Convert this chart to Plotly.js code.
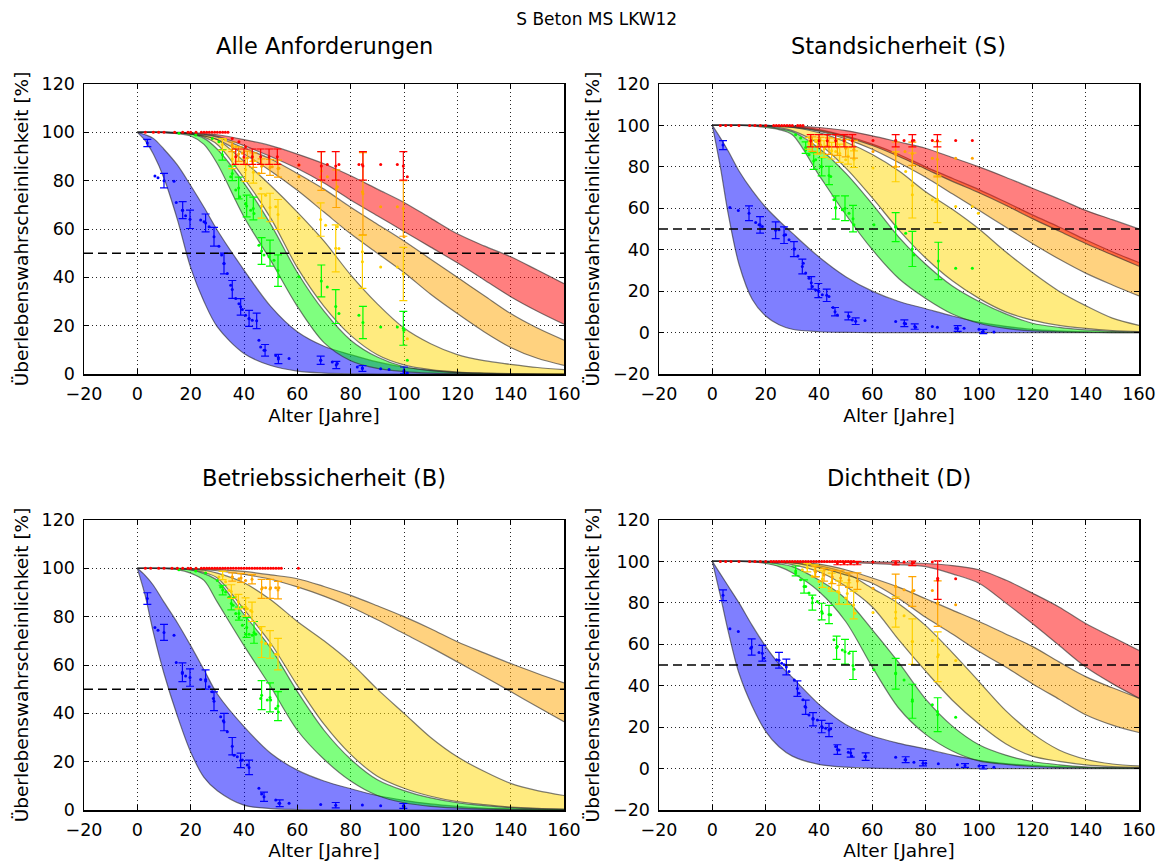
<!DOCTYPE html>
<html><head><meta charset="utf-8">
<script src="https://cdn.plot.ly/plotly-3.0.1.min.js"></script>
<style>html,body{margin:0;padding:0;background:#fff}</style>
</head><body><div id="chart" style="width:1170px;height:861px"></div>
<script>
// ---------- shared age grid (years) ----------
const AGE = [0,3,6,10,15,20,25,30,40,50,60,70,80,90,100,110,120,130,140,150,160];
const THRESHOLD = 50;

// ---------- Alle Anforderungen (A) : band bounds ----------
const A_BLUE_LO   = [100,96.5,91,81,64,44,30,19.5,8.5,3.5,1.2,0.4,0.1,0,0,0,0,0,0,0,0];
const A_BLUE_HI   = [100,99,97.5,93,86.5,78,69,59.5,43,28,17.5,11.5,8,5,2.8,1.5,0.7,0.3,0.1,0,0];
const A_GREEN_LO  = [100,100,100,99.9,99.5,98.5,95,87,65,47,28,13,5.5,2.3,1,0.4,0.2,0.1,0,0,0];
const A_GREEN_HI  = [100,100,100,100,99.8,99.3,97.5,93,79,62,42,26,14,7,3,1.4,0.6,0.3,0.1,0,0];
const A_YELLOW_LO = [100,100,100,100,99.9,99.5,98,95,81,64.5,44,28,16,8,3.8,1.8,0.8,0.4,0.2,0.1,0];
const A_YELLOW_HI = [100,100,100,100,99.8,99.4,98.5,97,88,78,67,55,41,29,19,12.5,8,5.5,4,2.7,1.8];
const A_ORANGE_LO = [100,100,100,100,99.8,99.3,98.5,97,91,84,76,67,58,50,42,33,25,17.5,11,6.5,3.6];
const A_ORANGE_HI = [100,100,100,100,99.9,99.5,99,98,93.5,89,83,76.5,69,62,55,47.5,40,32.5,25,19,14];
const A_RED_LO    = [100,100,100,100,99.9,99.6,99.2,98.3,94.5,90,85,79,72,65.5,59,52.5,46,39,32,26,20.6];
const A_RED_HI    = [100,100,100,100,100,99.9,99.5,99,97,94.5,91,87,82,76.5,71,64.5,58,53,48.5,43,37.4];

// ---------- Standsicherheit (S) ----------
const S_BLUE_LO   = [100,80,57,33,16,8,3.8,1.6,0.4,0.1,0,0,0,0,0,0,0,0,0,0,0];
const S_BLUE_HI   = [100,94,87.5,78,68.5,60.5,54,48,36.5,27,20,15,11.5,8,5,3,1.5,0.8,0.4,0.2,0.1];
const S_GREEN_LO  = [100,100,100,100,99.8,99,98,95.5,76,57,40,26,16.5,9,4.5,2,0.8,0.3,0.1,0,0];
const S_GREEN_HI  = [100,100,100,100,99.9,99.5,98.5,97,89,77,62,46,33,22.5,15,9,4.5,2.5,1.3,0.6,0.3];
const S_YELLOW_LO = [100,100,100,100,99.9,99.7,99,97.5,91,79.5,65,49.5,36,25,16.5,10,6,3.5,2,1,0.5];
const S_YELLOW_HI = [100,100,100,100,100,99.8,99.5,99,96.5,92,86,78,68,59.5,50,39,29,20,13,7,3.5];
const S_ORANGE_LO = [100,100,100,100,100,99.9,99.6,99.2,97.2,93.5,88.5,82,75,67,59,51,43,35.5,28.7,23,17.7];
const S_ORANGE_HI = [100,100,100,100,100,100,99.8,99.5,98,95,91,86,80,74.5,69,63,56.8,51,44.8,39,33.8];
const S_RED_LO    = [100,100,100,100,100,100,99.7,99.3,97.5,94.5,90.3,85,79,73,67.5,61.5,55,49,43,37.5,32];
const S_RED_HI    = [100,100,100,100,100,100,99.9,99.8,99,97.5,95,92,89,84.5,80,75,69.7,64.5,59,54.5,50];

// ---------- Betriebssicherheit (B) ----------
const B_BLUE_LO   = [100,88.5,73.5,56.5,39,24,13.5,8,2,0.6,0.2,0,0,0,0,0,0,0,0,0,0];
const B_BLUE_HI   = [100,97,93,86,77.5,68,58,48,34.5,23.5,16.5,12,8.8,6,4,2.5,1.5,0.8,0.5,0.3,0.2];
const B_GREEN_LO  = [100,100,100,99.9,99.5,98,95,86,68,51,33,21,12,6,3,1.5,0.8,0.4,0.2,0.1,0];
const B_GREEN_HI  = [100,100,100,100,99.8,99.3,97.8,95,81,67,49,33,21,12.5,8,5,3,1.8,1,0.5,0.3];
const B_YELLOW_LO = [100,100,100,100,99.9,99.5,98.3,96,83,69,51.5,35.5,23,14,9,5.7,3.5,2.2,1.2,0.7,0.4];
const B_YELLOW_HI = [100,100,100,100,99.9,99.7,99.2,98,94,87,78,70,61,50,40,30,22,16,11,8,6];
const B_ORANGE_LO = [100,100,100,100,100,99.8,99.5,99,97.5,95.5,92.3,88.5,84,78.7,73,67.3,61.3,55.2,49,42.7,36.5];
const B_ORANGE_HI = [100,100,100,100,100,99.9,99.8,99.6,98.7,97.3,95.7,92.5,88.8,84.5,80,75,69.6,65,60.6,56.5,52.6];

// ---------- Dichtheit (D) ----------
const D_BLUE_LO   = [100,83.5,66,46,30,18,10.5,6,2,0.7,0.2,0,0,0,0,0,0,0,0,0,0];
const D_BLUE_HI   = [100,94,88,80,69,59,50.5,44,31,21.3,15.7,12.2,9.5,6.5,4,2.4,1.5,0.9,0.5,0.3,0.2];
const D_GREEN_LO  = [100,100,100,100,99.8,99,97.5,94.5,85.5,71,49,29,16.5,8.5,3.7,2,1,0.5,0.3,0.1,0.1];
const D_GREEN_HI  = [100,100,100,100,99.9,99.5,98.8,97.5,91,82,67,51,33.5,20.5,11.5,6.5,3.4,1.8,0.8,0.5,0.3];
const D_YELLOW_LO = [100,100,100,100,99.9,99.7,99.3,98.5,95,88,78,62,47,33,21.5,12,6,3.5,1.8,1,0.6];
const D_YELLOW_HI = [100,100,100,100,100,99.8,99.6,99.4,98,94.5,87,79.5,69,56,42,28,17,9,4.5,2.2,1.3];
const D_ORANGE_LO = [100,100,100,100,100,99.9,99.7,99.3,97,93.5,89.5,82,73,65,56.5,49,41,33.5,26,21,17.4];
const D_ORANGE_HI = [100,100,100,100,100,100,99.9,99.7,98.7,96,92,87.5,82,76.5,71,65,59,51.5,44.4,39,34];
const D_RED_LO    = [100,100,100,100,100,100,100,100,99.8,99.5,99,98.5,97.5,94,89.5,80,70,59.5,49,41,34];
const D_RED_HI    = [100,100,100,100,100,100,100,100,100,99.9,99.8,99.5,99,98,96,91,84.7,78,70,63.5,57];

// ---------- observed points: error bars (EX, EY, EE) and single dots (DX, DY) ----------
// A
const A_BLUE_EX = [3.75,10,17,19.75,25.6,28.75,32.5,35.6,38.75,41.9,44.75,47.9,52.9,68.75,74.6,84.4,100];
const A_BLUE_EY = [95.6,80,67.8,64,62.5,56.8,45.7,35,27.8,23,22,9.8,6.2,5.7,3.7,2.3,1.5];
const A_BLUE_EE = [1.5,3,3.5,3.8,3.7,3.9,4.3,3.7,3.4,3.3,3.2,2.4,1.9,1.7,1.5,1.2,1.4];
const A_BLUE_DX = [6.6,7.75,13.75,14.6,16.9,18.1,23.75,25,26.9,30.6,31.6,32.5,33.75,35,36.9,38.1,39.4,40.6,41.9,43.1,45.6,46.25,47.5,51.9,52.9,56.9,68.75,73.1,75,82.5,84.4,91.25,94.4,100,101.25];
const A_BLUE_DY = [81.9,81.2,79.8,71,67.8,65.5,63.7,63,60.9,52.9,49.2,45.7,41.6,36.7,31.2,29.1,26.7,24.3,22.9,22.2,14,11.2,9.8,7.7,6.8,6.4,5.7,5,4.3,2.9,2.5,2.2,1.9,0.8,0.4];
const A_GREEN_EX = [31.9,35.6,38,41,43.5,46.6,49.75,52.75,69,74.4,84.6,99.75];
const A_GREEN_EY = [90.7,83,77,69.5,68.5,50.9,50,42.8,38.5,27.9,21.3,18.9];
const A_GREEN_EE = [2.2,3,4.5,4.5,4.7,5.5,5.4,6.5,6.6,7,6.7,7];
const A_GREEN_DX = [15.6,21.9,28.1,30.6,35,36.9,38.4,40.6,42.5,43.75,45.6,47.5,49.4,51.25,53.1,60.6,71.25,75.6,83.1,91.25,97.5,100,101.25];
const A_GREEN_DY = [99.6,98.9,97.5,96.1,81.6,76.1,73.3,70.6,67.8,66.4,53.3,49.2,48.5,47.1,40.2,40.2,36,25,24.3,19.5,19.5,18.1,5.7];
const A_YELLOW_EX = [31.9,35.6,40.6,43.5,46.6,49.75,52.75,68.75,74.4,84.4,99.75];
const A_YELLOW_EY = [95,89,84.5,83.5,69.5,68.9,66,63.9,52,46.4,41.4];
const A_YELLOW_EE = [2.4,4,4.8,4.5,5,5.9,6.2,6.9,9.7,11,11];
const A_YELLOW_DX = [33.1,36.9,43.1,45.6,46.25,48.1,51.9,60.6,70.6,75,75.6,84.4,91.25,97.5,101.25];
const A_YELLOW_DY = [96.8,94.1,88.5,83,76.8,74,69.2,64.4,61.6,60.9,51.9,50.6,44.3,44.3,14.6];
const A_ORANGE_EX = [35.6,38,41.25,43.5,46.6,49.75,52.75,69,74.6,84.6,99.75];
const A_ORANGE_EY = [94,91,89.4,88.5,86,85.5,85,84,76.7,74.6,68.5];
const A_ORANGE_EE = [2,3,2.8,3,3,3.3,3.5,8,7.8,17,11.5];
const A_ORANGE_DX = [35.6,39.4,43.1,46.9,50.6,53.1,60.6,60.6,68.75,71.25,75,84.4,91.25,97.5,100];
const A_ORANGE_DY = [94.8,91.3,89.9,86.5,85.8,85.1,86.5,81.6,81.6,81.6,77.5,75.4,69.2,69.2,56.8];
const A_RED_EX = [36.9,40,43.1,46.25,49.4,52.5,69,74.4,84.6,99.75];
const A_RED_EY = [89.9,89.9,89.9,89.9,89.9,89.9,86.1,86.1,86.1,86.1];
const A_RED_EE = [3.2,3.2,3.2,3.2,3.2,3.2,5.9,5.9,5.9,5.9];
const A_RED_DX = [3,6,8,10,14,17,19,20,22,24,25,26,27,28,29,30,31,32,33,34,35.6,38.1,40.6,60.6,71.25,75.6,83.1,84.4,91.25,97.5,101.25];
const A_RED_DY = [100,100,100,100,100,100,100,100,100,100,100,100,100,100,100,100,100,100,100,100,97.5,96.1,94,86.5,86.7,86.7,86.7,86.7,86.7,86.7,81.6];
// S
const S_BLUE_EX = [4,13.75,17.9,23.75,26.9,30.6,33.75,37.1,39.75,42.9,46,51,53.75,72,75.9,92,101.6];
const S_BLUE_EY = [90.5,57.6,52,49.4,47,40.3,31.9,24,20.3,18,10.1,8,5.5,4.5,2.9,2,0.5];
const S_BLUE_EE = [2.2,3.6,4,4,4,3.6,3.6,3,3.4,3,2,1.9,1.6,1.6,1.3,1.4,1];
const S_BLUE_DX = [6.6,9.75,16.25,17.5,18.75,25,27.5,28.75,30.9,32.1,34.1,35,36.25,37.5,38.75,40,41.25,43.75,45.25,46.9,51.25,52.5,57.25,68.75,72.5,76.25,82.5,84.4,91.25,94.4,100,101.25,105.6];
const S_BLUE_DY = [60.4,58.9,53.1,52,51.2,49.6,47.2,44.8,40.3,37,33.5,28.7,26.2,22.2,20.6,19.8,18.2,17.4,12.1,8.5,7.7,6.1,5.8,5.3,4.2,2.6,2.9,2.6,2.1,2.1,1.6,0.3,0.3];
const S_GREEN_EX = [35,38,41,43.75,46.25,49.75,52.75,68.75,75,84.75];
const S_GREEN_EY = [89.3,82.8,80,75.8,60.4,60,55,50.9,40.4,34.6];
const S_GREEN_EE = [2.8,4,4.4,4.4,5.6,6,6.4,7,8.5,9];
const S_GREEN_DX = [31.25,33.1,35,36.25,38.75,40.6,44.4,45.6,46.25,48.75,51.25,53.1,60.6,68.75,72.5,75.6,91.25,97.5];
const S_GREEN_DY = [95.5,93.9,88.2,85.8,83.4,80.2,75.4,64.1,60.1,59.3,57.6,52,52,51.2,48,37.5,31.1,31.1];
const S_YELLOW_EX = [36.25,39.4,41.9,44.75,47.75,50.9,53.1,68.75,75,84.4];
const S_YELLOW_EY = [91.3,89.7,88.6,87.8,86.6,85.3,83.7,80,71,64.4];
const S_YELLOW_EE = [2.8,3.6,4,4,4.4,4,4,7.2,15.7,11.3];
const S_YELLOW_DX = [38.75,42.5,46.25,50,60.25,68.75,72.5,75,82.5,83.75,91.25,97.5,99.75];
const S_YELLOW_DY = [92.3,89.9,87.4,83.4,79.4,80.2,77.8,66.5,64.1,63.3,60.9,60.9,57.6];
const S_ORANGE_EX = [37.5,40.6,43.75,46.9,50,53.1,68.75,75,84.4];
const S_ORANGE_EY = [91,90.5,90,89.5,89,88.5,86,86.3,83.7];
const S_ORANGE_EE = [3.5,3.8,4,4,4.2,4.3,6,5.6,8.5];
const S_ORANGE_DX = [60.25,68.75,72.25,82.5,91.25,97.5];
const S_ORANGE_DY = [87.4,86.6,87.4,84.2,84.2,84.2];
const S_RED_EX = [36.9,40,43.1,46.25,49.4,52.5,68.75,75,84.4];
const S_RED_EY = [92.6,92.6,92.6,92.6,92.6,92.6,92.6,92.6,92.6];
const S_RED_EE = [3,3,3,3,3,3,3,3,3];
const S_RED_DX = [3,5,7,10,14,16,18,20,23,24,25,26,27,28,29,30,32,33,34,60.25,68.75,71.9,75.6,82.5,91.25,97.5];
const S_RED_DY = [100,100,100,100,100,100,100,100,100,100,100,100,100,100,100,100,100,100,100,92.75,92.75,92.75,92.75,92.75,92.75,92.75];
// B
const B_BLUE_EX = [3.75,10,16.9,19.75,25.6,28.75,32.5,35.6,38.75,41.9,47.5,53.4,74.4,99.75];
const B_BLUE_EY = [87.5,73.5,57,54.8,54,45,36.4,26.4,20.5,17.6,5.5,2.8,2,1.7];
const B_BLUE_EE = [2.4,3.3,3.9,3.6,4,3.9,3.6,3.6,3,3,1.9,1.4,1.1,1];
const B_BLUE_DX = [6.6,7.75,13.75,14.6,16.9,18.1,23.75,25.6,26.9,28.1,28.5,31.25,32.25,33.75,36.25,37.5,39.4,41.25,45.6,46.6,51.9,53.1,56.9,68.75,84.4,91.25,100];
const B_BLUE_DY = [75.5,74.4,72.3,61,56.5,55.5,54,53.4,51,48.9,46.1,38.6,36.9,32.4,22.7,22,20.7,18.6,9,6.6,4.1,2.8,2.8,2.3,2.1,1.8,1.4];
const B_GREEN_EX = [32,35.25,38.1,41,43.75,46.6,49.75,52.75];
const B_GREEN_EY = [91,85.4,81.3,75.5,73.5,47.5,46.6,43];
const B_GREEN_EE = [2,2.6,2.7,4.1,4.5,6,6,6];
const B_GREEN_DX = [15.6,21.9,25.6,30,31.25,33.1,34.4,35.9,36.9,38.1,39.4,40.6,41.9,43.1,44.4,46.25,48.75,50,51.9,52.9];
const B_GREEN_DY = [99.4,98.9,98.1,95,92.3,90.2,87.9,84.7,81.3,79.6,76.4,72.7,72.7,72.3,72.7,46.1,45.5,45.5,42,40.6];
const B_YELLOW_EX = [32,35.25,37.9,40.6,43,46.6,49.75,52.75];
const B_YELLOW_EY = [97,90.4,86.2,84,82,69.5,68.5,64.5];
const B_YELLOW_EE = [1.7,2.8,3,3.8,4,6.4,5.7,6.5];
const B_YELLOW_DX = [30.6,33.1,34.4,36.9,39.4,41.25,42.5,46.25,48.1,50,51.9];
const B_YELLOW_DY = [96.4,94.4,90.9,88.2,84,83.3,82.6,75,68.9,68.2,64.5];
const B_ORANGE_EX = [35.6,38.9,43,46.6,49.75,52.75];
const B_ORANGE_EY = [96.4,96,95.5,91.5,91.5,91];
const B_ORANGE_EE = [1.7,1.8,1.9,3.9,3.9,3.6];
const B_ORANGE_DX = [35.6,38.1,40.6,46.9,48.1,50,51.9,53.1,60.4];
const B_ORANGE_DY = [96.4,95.7,95,92,92,92,92,92,92];
const B_RED_DX = [3,5,8,10,13,15,17,19,20,22,24,25,26,27,28,29,30,31,32,33,34,35,36,37,38,39,40,41,42,43,44,45,46,47,48,49,50,51,52,53,54,60.4];
const B_RED_DY = [100,100,100,100,100,100,100,100,100,100,100,100,100,100,100,100,100,100,100,100,100,100,100,100,100,100,100,100,100,100,100,100,100,100,100,100,100,100,100,100,100,100];
// D
const D_BLUE_EX = [4,14.75,18.75,25,27.75,31.9,35,37.75,41,43.75,46.9,51.9,57.5,72.5,79,94.75,101.6];
const D_BLUE_EY = [83.7,58.7,55.7,52.3,49,38.6,29.6,23.8,20.3,18.6,9.2,7.5,5.8,4.3,2.6,1.5,0.6];
const D_BLUE_EE = [2.6,3.9,3.8,3.8,3.8,3.7,3.4,3.2,3,3.2,2.3,2,1.8,1.4,1.3,0.9,0.8];
const D_BLUE_DX = [6.6,9.75,14.4,17.5,19.4,24.1,26,26.9,28.75,30.75,32.5,34,34.75,36.25,37.75,39.4,41.25,42.5,44.4,46.25,47.5,51,52.25,57.25,68.75,72.25,75.6,80,84.75,91.9,100,105.6];
const D_BLUE_DY = [67.5,66.2,58.1,56,53.3,52.5,50.9,50.1,46.9,42.8,36.4,33.2,30,25.9,24.3,23.5,19.8,19.5,19.2,10.6,9,7.9,6.1,5.8,5.5,4.2,3.1,2.6,2.3,1.8,1.3,0.6];
const D_GREEN_EX = [31.25,34.4,37.5,41,43.75,46.6,49.75,52.75,68.75,75,84.5];
const D_GREEN_EY = [95.4,87.9,80.1,75.8,74.4,58.3,56.4,49.8,45.8,32.5,26];
const D_GREEN_EE = [2.4,3.2,3.6,4,4.4,5.6,6,6.8,7.4,8.2,8.2];
const D_GREEN_DX = [31.25,33.1,35,36.25,37.5,39.4,41.25,44.4,45.6,46.9,48.75,51.25,53.1,60.6,68.75,71.9,75,82.5,84.4,91.25];
const D_GREEN_DY = [94.4,91.1,87.9,84.7,82.3,80.7,75,74.2,62.2,58.9,57.3,55.7,48,47.7,46.1,42.8,33.2,30.8,27.5,24.8];
const D_YELLOW_EX = [35.6,38.4,41.25,44.75,47.5,50.6,53,68.75,75,84.5];
const D_YELLOW_EY = [97,95.5,91.5,90,85,84.5,79,75.6,61.3,54];
const D_YELLOW_EE = [2,2.8,4,4.4,5.6,5.2,6.7,7.3,11,12];
const D_YELLOW_DX = [33.75,37.5,40,43.75,46.9,50,53.5,60.25,68.75,71.9,75,82.5,84.75,91.25];
const D_YELLOW_DY = [96,92.8,90.3,87.1,85.5,82.3,75,75.4,72.6,73.8,61.4,61.8,54.9,52.2];
const D_ORANGE_EX = [38.75,41.9,45,48.1,51.25,54.4,68.75,75,84.5];
const D_ORANGE_EY = [95,93.5,92.5,92,91,90.5,88,85.5,79.6];
const D_ORANGE_EE = [2.5,3,3.2,3.5,3.5,4,5.9,7.2,11];
const D_ORANGE_DX = [60.25,68.75,71.9,75.6,82.5,84.5,91.25];
const D_ORANGE_DY = [87.1,87.9,86.3,86,86,79.9,79.1];
const D_RED_EX = [46.9,49.4,51.9,54.4,68.75,75,84.5];
const D_RED_EY = [99.2,99.2,99.2,99.2,99.3,99.1,91];
const D_RED_EE = [0.8,0.8,0.8,0.8,1,1.1,9.3];
const D_RED_DX = [3,5,7,10,14,16,18,20,22,23,24,25,26,27,28,29,30,31,32,33,34,35,36,37,38,39,40,41,42,43,44,45,46,47,48,49,50,51,52,53,60.25,68.75,71.9,75.6,82.5,84.5,91.25];
const D_RED_DY = [100,100,100,100,100,100,100,100,100,100,100,100,100,100,100,100,100,100,100,100,100,100,100,100,100,100,100,100,100,100,100,100,100,100,100,100,100,100,100,100,99.7,99.5,99.7,99.5,99.7,91.9,91.6];

// ---------- labels ----------
const MAIN_TITLE = 'S Beton MS LKW12';
const PANEL_TITLES = ['Alle Anforderungen','Standsicherheit (S)','Betriebssicherheit (B)','Dichtheit (D)'];
const X_LABEL = 'Alter [Jahre]';
const Y_LABEL = 'Überlebenswahrscheinlichkeit [%]';

// ---------- styling ----------
const FONT = 'DejaVu Sans, Verdana, sans-serif';
const POINT = {blue:'#0000ff', green:'#00ff00', yellow:'#ffd000', orange:'#ffa500', red:'#ff0000'};
const FILL  = {blue:'rgba(0,0,255,0.5)', green:'rgba(0,255,0,0.5)', yellow:'rgba(255,215,0,0.5)', orange:'rgba(255,165,0,0.5)', red:'rgba(255,0,0,0.5)'};
const EDGE = 'rgba(40,40,40,0.6)';

const PANELS = [
  {xa:'x',  ya:'y',  yr:[0,120],
   bands:[['blue',A_BLUE_LO,A_BLUE_HI],['green',A_GREEN_LO,A_GREEN_HI],['yellow',A_YELLOW_LO,A_YELLOW_HI],['orange',A_ORANGE_LO,A_ORANGE_HI],['red',A_RED_LO,A_RED_HI]],
   err:[['blue',A_BLUE_EX,A_BLUE_EY,A_BLUE_EE],['green',A_GREEN_EX,A_GREEN_EY,A_GREEN_EE],['yellow',A_YELLOW_EX,A_YELLOW_EY,A_YELLOW_EE],['orange',A_ORANGE_EX,A_ORANGE_EY,A_ORANGE_EE],['red',A_RED_EX,A_RED_EY,A_RED_EE]],
   dots:[['blue',A_BLUE_DX,A_BLUE_DY],['green',A_GREEN_DX,A_GREEN_DY],['yellow',A_YELLOW_DX,A_YELLOW_DY],['orange',A_ORANGE_DX,A_ORANGE_DY],['red',A_RED_DX,A_RED_DY]]},
  {xa:'x2', ya:'y2', yr:[-20,120],
   bands:[['blue',S_BLUE_LO,S_BLUE_HI],['green',S_GREEN_LO,S_GREEN_HI],['yellow',S_YELLOW_LO,S_YELLOW_HI],['orange',S_ORANGE_LO,S_ORANGE_HI],['red',S_RED_LO,S_RED_HI]],
   err:[['blue',S_BLUE_EX,S_BLUE_EY,S_BLUE_EE],['green',S_GREEN_EX,S_GREEN_EY,S_GREEN_EE],['yellow',S_YELLOW_EX,S_YELLOW_EY,S_YELLOW_EE],['orange',S_ORANGE_EX,S_ORANGE_EY,S_ORANGE_EE],['red',S_RED_EX,S_RED_EY,S_RED_EE]],
   dots:[['blue',S_BLUE_DX,S_BLUE_DY],['green',S_GREEN_DX,S_GREEN_DY],['yellow',S_YELLOW_DX,S_YELLOW_DY],['orange',S_ORANGE_DX,S_ORANGE_DY],['red',S_RED_DX,S_RED_DY]]},
  {xa:'x3', ya:'y3', yr:[0,120],
   bands:[['blue',B_BLUE_LO,B_BLUE_HI],['green',B_GREEN_LO,B_GREEN_HI],['yellow',B_YELLOW_LO,B_YELLOW_HI],['orange',B_ORANGE_LO,B_ORANGE_HI]],
   err:[['blue',B_BLUE_EX,B_BLUE_EY,B_BLUE_EE],['green',B_GREEN_EX,B_GREEN_EY,B_GREEN_EE],['yellow',B_YELLOW_EX,B_YELLOW_EY,B_YELLOW_EE],['orange',B_ORANGE_EX,B_ORANGE_EY,B_ORANGE_EE]],
   dots:[['blue',B_BLUE_DX,B_BLUE_DY],['green',B_GREEN_DX,B_GREEN_DY],['yellow',B_YELLOW_DX,B_YELLOW_DY],['orange',B_ORANGE_DX,B_ORANGE_DY],['red',B_RED_DX,B_RED_DY]]},
  {xa:'x4', ya:'y4', yr:[-20,120],
   bands:[['blue',D_BLUE_LO,D_BLUE_HI],['green',D_GREEN_LO,D_GREEN_HI],['yellow',D_YELLOW_LO,D_YELLOW_HI],['orange',D_ORANGE_LO,D_ORANGE_HI],['red',D_RED_LO,D_RED_HI]],
   err:[['blue',D_BLUE_EX,D_BLUE_EY,D_BLUE_EE],['green',D_GREEN_EX,D_GREEN_EY,D_GREEN_EE],['yellow',D_YELLOW_EX,D_YELLOW_EY,D_YELLOW_EE],['orange',D_ORANGE_EX,D_ORANGE_EY,D_ORANGE_EE],['red',D_RED_EX,D_RED_EY,D_RED_EE]],
   dots:[['blue',D_BLUE_DX,D_BLUE_DY],['green',D_GREEN_DX,D_GREEN_DY],['yellow',D_YELLOW_DX,D_YELLOW_DY],['orange',D_ORANGE_DX,D_ORANGE_DY],['red',D_RED_DX,D_RED_DY]]}
];

const traces = [];
PANELS.forEach(p => {
  p.bands.forEach(([c, lo, hi]) => {
    traces.push({x:AGE, y:lo, xaxis:p.xa, yaxis:p.ya, mode:'lines',
      line:{color:EDGE, width:1.2, shape:'spline', smoothing:0.9}, hoverinfo:'skip', showlegend:false});
    traces.push({x:AGE, y:hi, xaxis:p.xa, yaxis:p.ya, mode:'lines', fill:'tonexty', fillcolor:FILL[c],
      line:{color:EDGE, width:1.2, shape:'spline', smoothing:0.9}, hoverinfo:'skip', showlegend:false});
  });
});
PANELS.forEach(p => {
  p.dots.forEach(([c, dx, dy]) => {
    traces.push({x:dx, y:dy, xaxis:p.xa, yaxis:p.ya, mode:'markers',
      marker:{size:3, color:POINT[c]}, hoverinfo:'skip', showlegend:false});
  });
  p.err.forEach(([c, ex, ey, ee]) => {
    traces.push({x:ex, y:ey, xaxis:p.xa, yaxis:p.ya, mode:'markers',
      marker:{size:3, color:POINT[c]},
      error_y:{type:'data', array:ee, visible:true, color:POINT[c], thickness:1.2, width:4},
      hoverinfo:'skip', showlegend:false});
  });
});

const W = 1170, H = 861;
const XD_L = [84/W, 564/W], XD_R = [659/W, 1139/W];
const YD_T = [1-374/H, 1-84/H], YD_B = [1-810/H, 1-520/H];

function xAxis(domain, anchor) {
  return {domain, anchor, range:[-20,160], dtick:20, tick0:0,
    ticks:'inside', ticklen:5, tickwidth:1, tickcolor:'#000',
    showline:true, linecolor:'#000', linewidth:1.5, mirror:'ticks',
    showgrid:true, gridcolor:'rgba(0,0,0,0.85)', griddash:'1px,3px', gridwidth:1,
    zeroline:false, ticklabelstandoff:3,
    tickfont:{family:FONT, size:17.5, color:'#000'},
    title:{text:X_LABEL, font:{family:FONT, size:18.5, color:'#000'}, standoff:6}};
}
function yAxis(domain, anchor, range) {
  return {domain, anchor, range, dtick:20, tick0:0,
    ticks:'inside', ticklen:5, tickwidth:1, tickcolor:'#000',
    showline:true, linecolor:'#000', linewidth:1.5, mirror:'ticks',
    showgrid:true, gridcolor:'rgba(0,0,0,0.85)', griddash:'1px,3px', gridwidth:1,
    zeroline:false, ticklabelstandoff:4,
    tickfont:{family:FONT, size:17.5, color:'#000'},
    title:{text:Y_LABEL, font:{family:FONT, size:18.5, color:'#000'}, standoff:8}};
}

const shapes = PANELS.map(p => ({type:'line', xref:p.xa + ' domain', x0:0, x1:1, yref:p.ya,
  y0:THRESHOLD, y1:THRESHOLD, line:{color:'#000', width:1.5, dash:'9px,5px'}}));

const titleY = [1-46/H, 1-46/H, 1-478/H, 1-478/H];
const titleX = [(XD_L[0]+XD_L[1])/2, (XD_R[0]+XD_R[1])/2, (XD_L[0]+XD_L[1])/2, (XD_R[0]+XD_R[1])/2];
const annotations = PANEL_TITLES.map((t, i) => ({text:t, xref:'paper', yref:'paper', x:titleX[i], y:titleY[i],
  xanchor:'center', yanchor:'middle', showarrow:false, font:{family:FONT, size:22.5, color:'#000'}}));

const layout = {
  width:W, height:H, margin:{l:0, r:0, t:0, b:0},
  paper_bgcolor:'#fff', plot_bgcolor:'#fff', showlegend:false, hovermode:false,
  font:{family:FONT, color:'#000'},
  title:{text:MAIN_TITLE, x:0.51, xanchor:'center', y:1-19/H, yanchor:'middle', font:{family:FONT, size:17, color:'#000'}},
  xaxis:xAxis(XD_L,'y'), yaxis:yAxis(YD_T,'x',PANELS[0].yr),
  xaxis2:xAxis(XD_R,'y2'), yaxis2:yAxis(YD_T,'x2',PANELS[1].yr),
  xaxis3:xAxis(XD_L,'y3'), yaxis3:yAxis(YD_B,'x3',PANELS[2].yr),
  xaxis4:xAxis(XD_R,'y4'), yaxis4:yAxis(YD_B,'x4',PANELS[3].yr),
  shapes, annotations
};

Plotly.newPlot('chart', traces, layout, {staticPlot:true, displayModeBar:false});
</script></body></html>
